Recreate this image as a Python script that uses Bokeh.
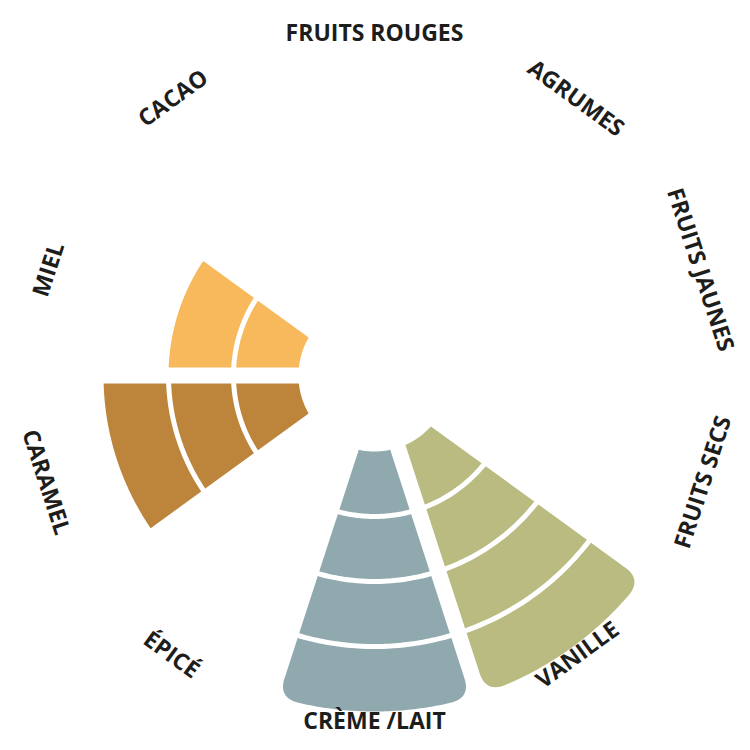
import numpy as np
from bokeh.plotting import figure, ColumnDataSource
from bokeh.core.properties import value
from bokeh.embed import file_html
from bokeh.resources import INLINE

# aromas, clockwise from the top
categories = ["FRUITS ROUGES", "AGRUMES", "FRUITS JAUNES", "FRUITS SECS", "VANILLE",
              "CRÈME /LAIT", "ÉPICÉ", "CARAMEL", "MIEL", "CACAO"]
scores = [0, 0, 0, 0, 4, 4, 0, 3, 2, 0]
colors = {"VANILLE": "#B9BB80", "CRÈME /LAIT": "#8FA9AF",
          "CARAMEL": "#BD853C", "MIEL": "#F8B85C"}
max_score = 4

R0 = 76          # inner hole
STEP = 65        # one level
HALF_GAP = 8     # half the white gap between sectors
HALF_SEP = 2.5   # half the white line between levels
CORNER = 20      # rounding of the full sectors
LABEL_R = 344


def pol(r, a):
    return r * np.cos(a), r * np.sin(a)


def band(a1, a2, r_in, r_out, rounded):
    o = np.arcsin(HALF_GAP / r_out)
    i = np.arcsin(HALF_GAP / r_in)
    A = np.array(pol(r_out, a1 + o))
    B = np.array(pol(r_out, a2 - o))
    IA = np.array(pol(r_in, a1 + i))
    IB = np.array(pol(r_in, a2 - i))
    pts = [IA]
    if rounded:
        dc = CORNER / r_out
        P1 = A + (IA - A) / np.linalg.norm(IA - A) * CORNER
        Q1 = np.array(pol(r_out, a1 + o + dc))
        t = np.linspace(0, 1, 12)[:, None]
        pts += list((1 - t) ** 2 * P1 + 2 * (1 - t) * t * A + t ** 2 * Q1)
        arc = np.linspace(a1 + o + dc, a2 - o - dc, 50)
        pts += [np.array(pol(r_out, a)) for a in arc]
        Q2 = np.array(pol(r_out, a2 - o - dc))
        P2 = B + (IB - B) / np.linalg.norm(IB - B) * CORNER
        pts += list((1 - t) ** 2 * Q2 + 2 * (1 - t) * t * B + t ** 2 * P2)
    else:
        arc = np.linspace(a1 + o, a2 - o, 50)
        pts += [np.array(pol(r_out, a)) for a in arc]
    arc = np.linspace(a2 - i, a1 + i, 30)
    pts += [np.array(pol(r_in, a)) for a in arc]
    pts = np.array(pts)
    return list(pts[:, 0]), list(pts[:, 1])


xs, ys, fills = [], [], []
for n, (cat, v) in enumerate(zip(categories, scores)):
    mid = np.radians(90 - 36 * n)
    a1, a2 = mid - np.radians(18), mid + np.radians(18)
    for k in range(1, v + 1):
        r_in = R0 + (k - 1) * STEP + (HALF_SEP if k > 1 else 0)
        r_out = R0 + k * STEP - (HALF_SEP if k < v else 0)
        bx, by = band(a1, a2, r_in, r_out, k == v == max_score)
        xs.append(bx)
        ys.append(by)
        fills.append(colors[cat])

# labels around the circle, flipped on the lower half
lx, ly, la = [], [], []
for n, cat in enumerate(categories):
    t = 36 * n
    lx.append(LABEL_R * np.sin(np.radians(t)))
    ly.append(LABEL_R * np.cos(np.radians(t)))
    rot = 180 - t if 90 < t < 270 else -t
    la.append(np.radians(rot))

p = figure(width=742, height=742, x_range=(-374, 368), y_range=(-367, 375),
           output_backend="svg", toolbar_location=None, min_border=0,
           x_axis_type=None, y_axis_type=None)
p.grid.visible = False
p.outline_line_color = None

p.patches(xs, ys, fill_color=fills, line_color=None)

labels = ColumnDataSource(dict(x=lx, y=ly, text=categories, angle=la))
p.text("x", "y", text="text", angle="angle", source=labels,
       text_font=value("Open Sans"), text_font_style="bold", text_font_size="23px",
       text_color="#1D1D1B", text_align="center", text_baseline="middle")

open("out.html", "w").write(file_html(p, INLINE))
